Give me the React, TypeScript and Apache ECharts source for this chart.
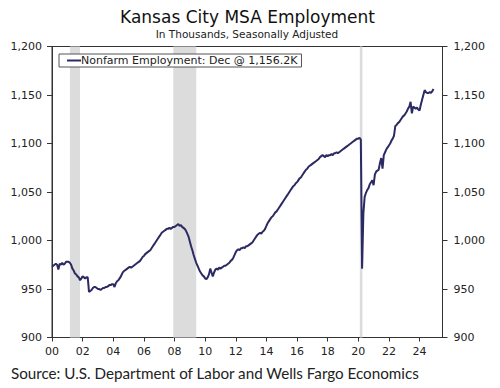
import React, { useEffect, useRef } from 'react';
import * as echarts from 'echarts';

// Monthly nonfarm employment, Kansas City MSA (thousands, SA), Jan 2000 – Dec 2024
const startYear = 2000;
const y2000 = [973, 974, 975, 976, 975, 970, 976, 975, 977, 975, 976, 978];
const y2001 = [978, 978, 977, 975, 971, 969, 966, 965, 963, 962, 959, 961];
const y2002 = [963, 962, 961, 962, 962, 947, 948, 949, 951, 952, 952, 951];
const y2003 = [950, 950, 949, 950, 951, 951, 952, 952, 953, 954, 954, 955];
const y2004 = [955, 952, 956, 958, 959, 961, 963, 966, 968, 969, 970, 971];
const y2005 = [972, 973, 972, 973, 974, 975, 976, 977, 978, 979, 981, 983];
const y2006 = [984, 986, 987, 988, 989, 990, 992, 994, 996, 998, 1000, 1002];
const y2007 = [1004, 1006, 1008, 1009, 1010, 1011, 1012, 1012, 1013, 1012, 1013, 1014];
const y2008 = [1014, 1015, 1016, 1017, 1015, 1016, 1014, 1013, 1012, 1010, 1007, 1004];
const y2009 = [999, 994, 990, 985, 981, 977, 974, 971, 968, 966, 964, 963];
const y2010 = [961, 960, 962, 965, 971, 967, 963, 967, 970, 971, 970, 972];
const y2011 = [971, 972, 973, 974, 974, 975, 976, 977, 979, 980, 982, 985];
const y2012 = [988, 990, 991, 990, 992, 992, 993, 992, 994, 994, 995, 996];
const y2013 = [997, 998, 1000, 1002, 1004, 1006, 1007, 1008, 1007, 1009, 1010, 1012];
const y2014 = [1015, 1018, 1020, 1022, 1024, 1025, 1027, 1029, 1030, 1032, 1034, 1036];
const y2015 = [1038, 1040, 1042, 1044, 1046, 1048, 1050, 1052, 1054, 1056, 1057, 1059];
const y2016 = [1060, 1062, 1064, 1065, 1067, 1069, 1071, 1073, 1074, 1076, 1077, 1078];
const y2017 = [1079, 1080, 1081, 1082, 1083, 1084, 1086, 1087, 1088, 1087, 1086, 1088];
const y2018 = [1087, 1088, 1088, 1089, 1088, 1090, 1090, 1091, 1090, 1091, 1092, 1093];
const y2019 = [1094, 1095, 1096, 1097, 1098, 1099, 1100, 1101, 1102, 1103, 1104, 1105];
const y2020 = [1105, 1106, 1104, 971, 1028, 1045, 1049, 1052, 1054, 1058, 1060, 1062];
const y2021 = [1057, 1068, 1071, 1072, 1073, 1080, 1085, 1074, 1088, 1091, 1094, 1096];
const y2022 = [1098, 1100, 1103, 1105, 1108, 1118, 1119, 1121, 1122, 1124, 1126, 1128];
const y2023 = [1129, 1131, 1133, 1136, 1138, 1143, 1131, 1138, 1137, 1136, 1137, 1135];
const y2024 = [1134, 1140, 1145, 1150, 1155, 1153, 1152, 1152, 1153, 1152, 1154, 1156.2];

const employment = [
  ...y2000, ...y2001, ...y2002, ...y2003, ...y2004, ...y2005, ...y2006, ...y2007,
  ...y2008, ...y2009, ...y2010, ...y2011, ...y2012, ...y2013, ...y2014, ...y2015,
  ...y2016, ...y2017, ...y2018, ...y2019, ...y2020, ...y2021, ...y2022, ...y2023, ...y2024,
];

// Recession periods (decimal years)
const recessions = [
  [2001.17, 2001.83],
  [2007.92, 2009.42],
  [2020.1, 2020.27],
];

const seriesName = 'Nonfarm Employment: Dec @ 1,156.2K';
const titleText = 'Kansas City MSA Employment';
const subtitleText = 'In Thousands, Seasonally Adjusted';
const sourceText = 'Source: U.S. Department of Labor and Wells Fargo Economics';

const xMin = 2000;
const xMax = 2025.5;
const xInterval = 2;
const yMin = 900;
const yMax = 1200;
const yInterval = 50;

const FONT = 'DejaVu Sans, Verdana, sans-serif';

export default function App() {
  const ref = useRef<HTMLDivElement>(null);
  useEffect(() => {
    if (!ref.current) return;
    const chart = echarts.init(ref.current, undefined, { renderer: 'svg' });
    const data = employment.map((v, i) => [startYear + i / 12, v]);
    const yLabel = (v: number) => v.toLocaleString('en-US');
    chart.setOption({
      animation: false,
      backgroundColor: '#ffffff',
      grid: {
        left: 52,
        right: 57.5,
        top: 46.5,
        bottom: 50.5,
        show: true,
        borderColor: '#333',
        borderWidth: 1,
        backgroundColor: 'transparent',
      },
      legend: {
        data: [{ name: seriesName, icon: 'rect' }],
        left: 59,
        top: 54,
        itemWidth: 14,
        itemHeight: 2,
        itemGap: 0,
        padding: [1, 4, 1, 8],
        borderColor: '#555',
        borderWidth: 1,
        backgroundColor: '#ffffff',
        selectedMode: false,
        textStyle: { fontFamily: FONT, fontSize: 11, color: '#222', padding: [0, 0, 0, -5] },
      },
      xAxis: {
        type: 'value',
        min: xMin,
        max: xMax,
        interval: xInterval,
        splitLine: { show: false },
        axisLine: { show: true, lineStyle: { color: '#333', width: 1 } },
        axisTick: { show: true, length: 4, lineStyle: { color: '#333' } },
        axisLabel: {
          margin: 8,
          fontFamily: FONT,
          fontSize: 11,
          color: '#222',
          showMaxLabel: false,
          formatter: (v: number) =>
            Number.isInteger(v) ? String(v % 100).padStart(2, '0') : '',
        },
      },
      yAxis: [
        {
          type: 'value',
          min: yMin,
          max: yMax,
          interval: yInterval,
          position: 'left',
          splitLine: { show: false },
          axisLine: { show: true, lineStyle: { color: '#333' } },
          axisTick: { show: true, length: 5, lineStyle: { color: '#333' } },
          axisLabel: { margin: 10, fontFamily: FONT, fontSize: 11, color: '#222', formatter: yLabel },
        },
        {
          type: 'value',
          min: yMin,
          max: yMax,
          interval: yInterval,
          position: 'right',
          splitLine: { show: false },
          axisLine: { show: true, lineStyle: { color: '#333' } },
          axisTick: { show: true, length: 5, lineStyle: { color: '#333' } },
          axisLabel: { margin: 11, fontFamily: FONT, fontSize: 11, color: '#222', formatter: yLabel },
        },
      ],
      series: [
        {
          name: seriesName,
          type: 'line',
          data,
          showSymbol: false,
          symbol: 'none',
          color: '#2b2a63',
          lineStyle: { color: '#2b2a63', width: 2 },
          z: 3,
          markArea: {
            silent: true,
            itemStyle: { color: '#dcdcdc' },
            data: recessions.map(([a, b]) => [{ xAxis: a }, { xAxis: b }]),
          },
        },
      ],
      graphic: [
        {
          type: 'text',
          x: 247.5,
          y: 17,
          style: {
            text: titleText,
            fontFamily: FONT,
            fontSize: 17,
            fill: '#111',
            align: 'center',
            verticalAlign: 'middle',
          },
        },
        {
          type: 'text',
          x: 247,
          y: 33.5,
          style: {
            text: subtitleText,
            fontFamily: FONT,
            fontSize: 10.5,
            fill: '#222',
            align: 'center',
            verticalAlign: 'middle',
          },
        },
        {
          type: 'text',
          x: 11,
          y: 373,
          style: {
            text: sourceText,
            fontFamily: 'Lato, sans-serif',
            fontSize: 15.2,
            fill: '#222',
            align: 'left',
            verticalAlign: 'middle',
          },
        },
      ],
    });
    return () => chart.dispose();
  }, []);
  return (
    <div
      ref={ref}
      style={{ position: 'fixed', left: 0, top: 0, width: 500, height: 388, background: '#fff' }}
    />
  );
}
